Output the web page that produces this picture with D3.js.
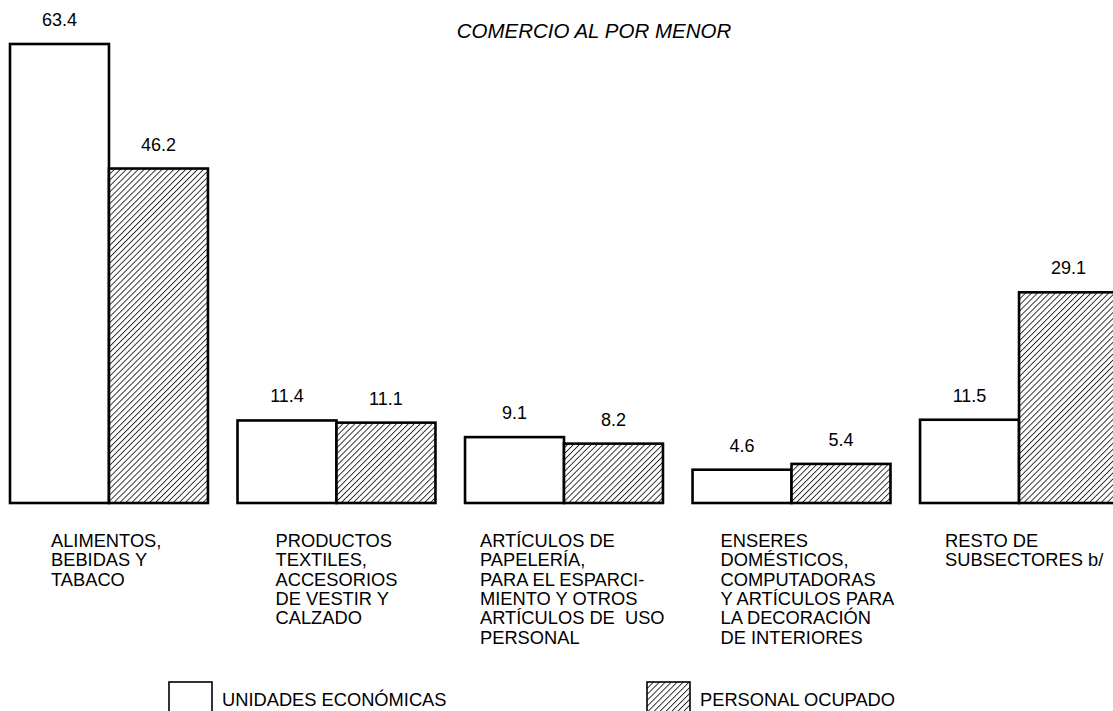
<!DOCTYPE html>
<html lang="es">
<head>
<meta charset="UTF-8">
<title>Comercio al por menor</title>
<script src="https://cdn.jsdelivr.net/npm/d3@7"></script>
<style>
  body { margin: 0; background: #fff; }
  svg { display: block; font-family: "Liberation Sans", Arial, sans-serif; }
</style>
</head>
<body>
<svg id="chart" width="1113" height="711"></svg>
<script>
// data
var categories = ["ALIMENTOS", "PRODUCTOS TEXTILES", "ARTICULOS DE PAPELERIA", "ENSERES DOMESTICOS", "RESTO"];
var categoryLines = [
  ["ALIMENTOS,", "BEBIDAS Y", "TABACO"],
  ["PRODUCTOS", "TEXTILES,", "ACCESORIOS", "DE VESTIR Y", "CALZADO"],
  ["ARTÍCULOS DE", "PAPELERÍA,", "PARA EL ESPARCI-", "MIENTO Y OTROS", "ARTÍCULOS DE  USO", "PERSONAL"],
  ["ENSERES", "DOMÉSTICOS,", "COMPUTADORAS", "Y ARTÍCULOS PARA", "LA DECORACIÓN", "DE INTERIORES"],
  ["RESTO DE", "SUBSECTORES b/"]
];
var series = ["UNIDADES ECONÓMICAS", "PERSONAL OCUPADO"];
var unidades = [63.4, 11.4, 9.1, 4.6, 11.5];
var personal = [46.2, 11.1, 8.2, 5.4, 29.1];
var title = "COMERCIO AL POR MENOR";

// layout
var labelDx = [41, 38, 15, 28, 25]; // label offset from group start
var baseY = 503;
var fontSize = 18.3;

var svg = d3.select("#chart");

// hatch pattern
var defs = svg.append("defs");
var pat = defs.append("pattern")
  .attr("id", "hatch")
  .attr("patternUnits", "userSpaceOnUse")
  .attr("width", 4.2)
  .attr("height", 4.2)
  .attr("patternTransform", "rotate(45)");
pat.append("rect").attr("width", 4.2).attr("height", 4.2).attr("fill", "#fff");
pat.append("line")
  .attr("x1", 0).attr("y1", 0).attr("x2", 0).attr("y2", 4.2)
  .attr("stroke", "#222").attr("stroke-width", 1.8);

var x0 = d3.scaleBand()
  .domain(categories)
  .range([10, 1118])
  .paddingInner(0.13)
  .paddingOuter(0);

var x1 = d3.scaleBand()
  .domain(series)
  .range([0, x0.bandwidth()]);

var y = d3.scaleLinear()
  .domain([0, 63.4])
  .range([baseY, 44]);

var rows = categories.map(function(c, i) {
  return { cat: c, vals: [unidades[i], personal[i]] };
});

var groups = svg.selectAll("g.group")
  .data(rows)
  .enter().append("g")
  .attr("class", "group")
  .attr("transform", function(d) { return "translate(" + x0(d.cat) + ",0)"; });

var bars = groups.selectAll("g.bar")
  .data(function(d) {
    return d.vals.map(function(v, j) { return { s: series[j], v: v, j: j }; });
  })
  .enter().append("g")
  .attr("class", "bar");

bars.append("rect")
  .attr("x", function(d) { return x1(d.s); })
  .attr("y", function(d) { return y(d.v); })
  .attr("width", x1.bandwidth())
  .attr("height", function(d) { return baseY - y(d.v); })
  .attr("fill", function(d) { return d.j === 0 ? "#fff" : "url(#hatch)"; })
  .attr("stroke", "#000")
  .attr("stroke-width", 2.6);

bars.append("text")
  .attr("x", function(d) { return x1(d.s) + x1.bandwidth() / 2; })
  .attr("y", function(d) { return y(d.v) - 18; })
  .attr("text-anchor", "middle")
  .attr("font-size", 18)
  .attr("fill", "#000")
  .text(function(d) { return d.v.toFixed(1); });

// category labels
groups.append("text")
  .attr("font-size", fontSize)
  .attr("fill", "#000")
  .attr("transform", function(d, i) { return "translate(" + labelDx[i] + ",547)"; })
  .selectAll("tspan")
  .data(function(d, i) { return categoryLines[i]; })
  .enter().append("tspan")
  .attr("x", 0)
  .attr("dy", function(d, k) { return k === 0 ? 0 : 19.3; })
  .attr("xml:space", "preserve")
  .style("white-space", "pre")
  .text(function(d) { return d; });

// title
svg.append("text")
  .attr("x", 594)
  .attr("y", 38)
  .attr("text-anchor", "middle")
  .attr("font-size", 20.5)
  .attr("font-style", "italic")
  .attr("fill", "#000")
  .text(title);

// legend
var legendX = [169, 647];
var legend = svg.selectAll("g.legend")
  .data(series)
  .enter().append("g")
  .attr("class", "legend")
  .attr("transform", function(d, i) { return "translate(" + legendX[i] + ",682)"; });

legend.append("rect")
  .attr("width", 43)
  .attr("height", 40)
  .attr("fill", function(d, i) { return i === 0 ? "#fff" : "url(#hatch)"; })
  .attr("stroke", "#000")
  .attr("stroke-width", 1.6);

legend.append("text")
  .attr("x", 53)
  .attr("y", 24)
  .attr("font-size", fontSize)
  .attr("fill", "#000")
  .text(function(d) { return d; });
</script>
</body>
</html>
